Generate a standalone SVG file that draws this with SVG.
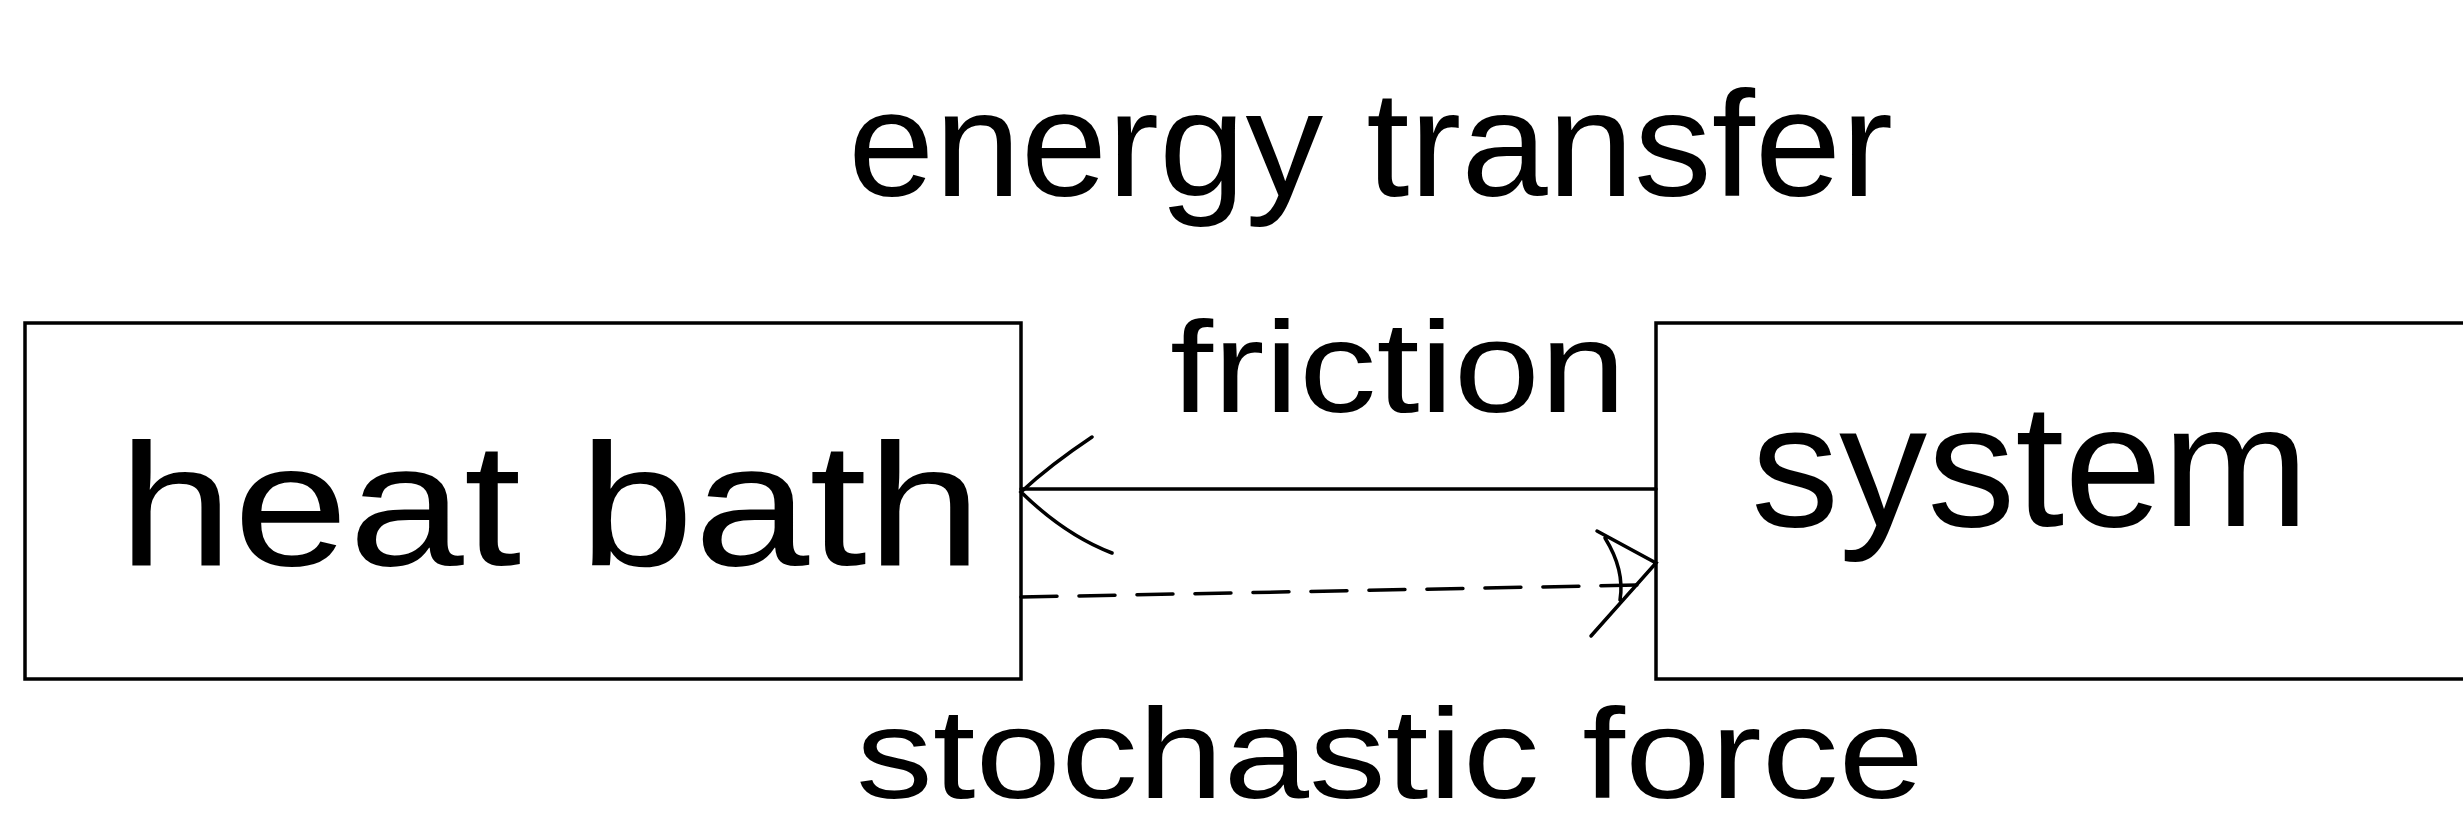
<svg xmlns="http://www.w3.org/2000/svg" width="2463" height="833" viewBox="0 0 2463 833">
<style>
.box{fill:#fff;stroke:#000;stroke-width:3.5}
.lbl{font-family:"Liberation Sans",Arial,sans-serif;fill:#000}
.ln{fill:none;stroke:#000;stroke-width:3.5;stroke-linecap:round}
</style>
<rect width="2463" height="833" fill="#fff"/>
<g id="heat-bath">
<rect class="box" x="25" y="323" width="996" height="356"/>
<text class="lbl" x="118" y="565" font-size="175" textLength="864" lengthAdjust="spacingAndGlyphs">heat bath</text>
</g>
<g id="system">
<rect class="box" x="1656" y="323" width="820" height="356"/>
<text class="lbl" x="1751" y="526" font-size="175" textLength="558" lengthAdjust="spacingAndGlyphs">system</text>
</g>
<g id="connectors">
<line class="ln" x1="1656" y1="489" x2="1021" y2="489"/>
<path class="ln" d="M1092,437 Q1050,465 1021,492 Q1065,535 1112,553"/>
<line class="ln" x1="1021" y1="597" x2="1640" y2="585" stroke-dasharray="36,22" stroke-width="5"/>
<path class="ln" d="M1597,531 L1656,563 L1591,636 M1605,538 Q1625,570 1620,600"/>
</g>
<g id="labels">
<text class="lbl" x="848" y="196" font-size="150" textLength="1045" lengthAdjust="spacingAndGlyphs">energy transfer</text>
<text class="lbl" x="1170" y="412" font-size="130" textLength="456" lengthAdjust="spacingAndGlyphs">friction</text>
<text class="lbl" x="856" y="798" font-size="128" textLength="1068" lengthAdjust="spacingAndGlyphs">stochastic force</text>
</g>
</svg>
